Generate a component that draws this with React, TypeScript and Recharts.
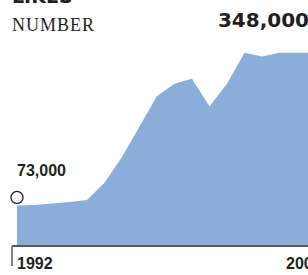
import { AreaChart, Area, XAxis, YAxis } from "recharts";

const YEARS = [
  1992, 1993, 1994, 1995, 1996, 1997, 1998, 1999, 2000, 2001, 2002, 2003, 2004,
  2005, 2006, 2007, 2008, 2009,
];
const LIKES = [
  73000, 74000, 76500, 79000, 83000, 114000, 160000, 215000, 270000, 292000,
  301000, 251000, 292000, 348000, 341000, 348000, 348000, 348000,
];
const X_TICKS = [1992, 2008];
const TITLE = "LIKES";
const UNIT = "NUMBER";

const data = YEARS.map((year, i) => ({ year, likes: LIKES[i] }));
const fmt = (v: number) => v.toLocaleString("en-US");

const FILL = "#8aadd9";
const INK = "#231f20";
const AXIS = "#58585a";
const SANS = "'Liberation Sans', Arial, sans-serif";
const HEAVY = "'DejaVu Sans', sans-serif";

// open circle + first value sit above the first point
function StartMarker(props: any) {
  const { cx, cy, index } = props;
  if (index !== 0) return <g key={`dot-${index}`} />;
  return (
    <g key="start">
      <circle cx={cx} cy={cy - 8} r={6} fill="#fff" stroke={INK} strokeWidth={1.3} />
      <text x={cx} y={cy - 29} fontFamily={SANS} fontWeight={700} fontSize={16} fill={INK}>
        {fmt(LIKES[0])}
      </text>
    </g>
  );
}

function YearTick(props: any) {
  const { x, y, payload, index } = props;
  const first = index === 0;
  return (
    <g>
      {first && (
        <line x1={x - 5} x2={x - 5} y1={y} y2={y + 20} stroke={AXIS} strokeWidth={1.5} />
      )}
      <text
        x={x}
        y={y}
        dx={first ? 0 : -11}
        dy={23}
        fontFamily={SANS}
        fontWeight={700}
        fontSize={16}
        fill={INK}
      >
        {payload.value}
      </text>
    </g>
  );
}

export default function App() {
  return (
    <div
      style={{
        position: "absolute",
        left: 0,
        top: 0,
        width: 308,
        height: 275,
        overflow: "hidden",
        background: "#fff",
      }}
    >
      <AreaChart
        width={330}
        height={275}
        data={data}
        margin={{ top: 46, right: 15.5, bottom: 0, left: 12 }}
      >
        <YAxis hide domain={[0, 360000]} />
        <Area
          type="linear"
          dataKey="likes"
          stroke="none"
          fill={FILL}
          fillOpacity={1}
          dot={StartMarker}
          activeDot={false}
          isAnimationActive={false}
        />
        <XAxis
          dataKey="year"
          type="number"
          domain={[1992, 2009]}
          ticks={X_TICKS}
          padding={{ left: 5, right: 0 }}
          height={29}
          tickSize={0}
          tickMargin={0}
          tickLine={false}
          axisLine={{ stroke: AXIS, strokeWidth: 2 }}
          tick={YearTick}
        />
      </AreaChart>
      <svg
        width={308}
        height={275}
        style={{ position: "absolute", left: 0, top: 0, pointerEvents: "none" }}
      >
        <text x={12} y={3} fontFamily={HEAVY} fontWeight={700} fontSize={19} fill={INK}>
          {TITLE}
        </text>
        <text
          x={12}
          y={31}
          fontFamily="'Liberation Serif', serif"
          fontSize={18}
          letterSpacing={1}
          fill={INK}
        >
          {UNIT}
        </text>
        <text
          x={309}
          y={27}
          textAnchor="end"
          fontFamily={HEAVY}
          fontWeight={700}
          fontSize={20}
          fill={INK}
        >
          {fmt(LIKES[LIKES.length - 1])}
        </text>
      </svg>
    </div>
  );
}
